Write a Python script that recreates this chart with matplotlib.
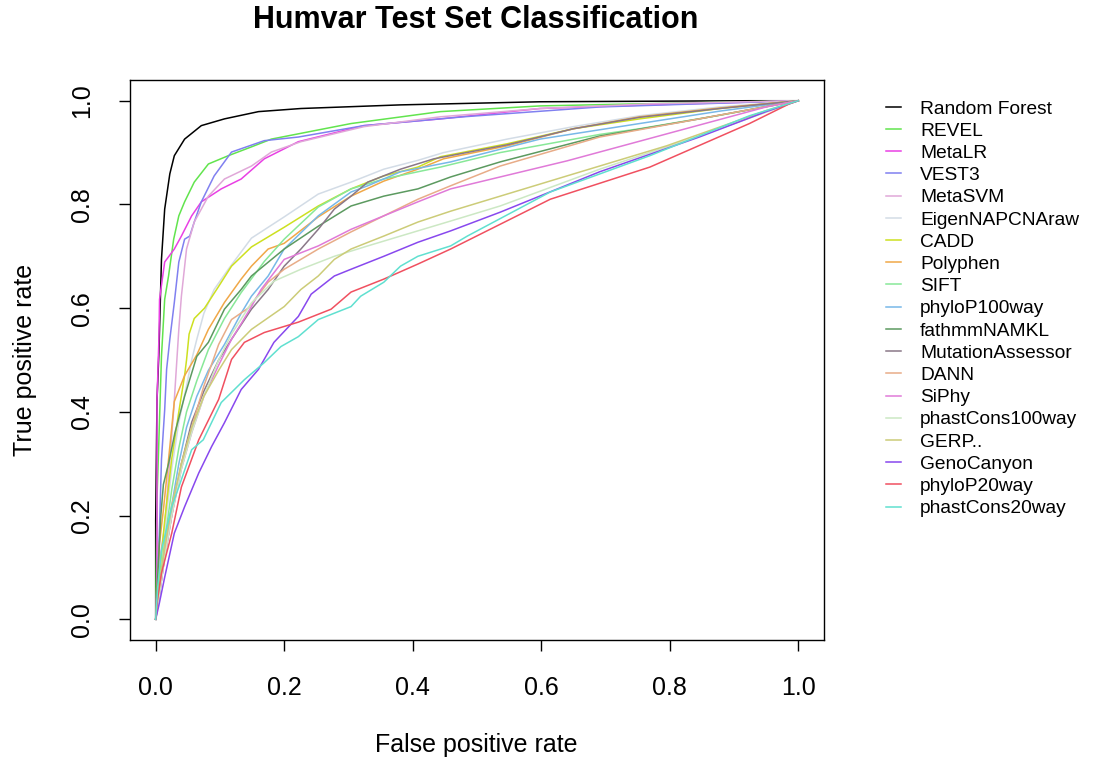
import matplotlib
matplotlib.use("Agg")
from matplotlib import pyplot as plt

plt.rcParams['font.family'] = ['Liberation Sans', 'DejaVu Sans']

# ROC curves (FPR, TPR)
names = ["Random Forest", "REVEL", "MetaLR", "VEST3", "MetaSVM", "EigenNAPCNAraw",
         "CADD", "Polyphen", "SIFT", "phyloP100way", "fathmmNAMKL", "MutationAssessor",
         "DANN", "SiPhy", "phastCons100way", "GERP..", "GenoCanyon", "phyloP20way",
         "phastCons20way"]
colors = ["#000000", "#62e44e", "#e940e4", "#8080f0", "#e0a8d8", "#d3dce6",
          "#cde020", "#f0a848", "#88e898", "#78b8e8", "#5c9a60", "#8a7888",
          "#e8ac88", "#e07ad8", "#cce8c4", "#cccc78", "#8848ee", "#f05060",
          "#60e0d0"]

rf_x = [0, 0, 0.002, 0.005, 0.009, 0.014, 0.022, 0.029, 0.045, 0.071, 0.107, 0.160, 0.226, 0.381, 0.598, 0.924, 1.0]
rf_y = [0, 0.19, 0.42, 0.515, 0.694, 0.791, 0.859, 0.894, 0.926, 0.952, 0.965, 0.979, 0.985, 0.992, 0.998, 1.0, 1.0]

revel_x = [0, 0.002, 0.005, 0.009, 0.014, 0.020, 0.028, 0.036, 0.045, 0.060, 0.082, 0.113, 0.149, 0.180, 0.304, 0.443, 0.598, 0.753, 1.0]
revel_y = [0, 0.23, 0.346, 0.507, 0.617, 0.662, 0.733, 0.778, 0.805, 0.843, 0.878, 0.894, 0.911, 0.926, 0.956, 0.979, 0.990, 0.994, 1.0]

metalr_x = [0, 0.002, 0.002, 0.005, 0.006, 0.014, 0.029, 0.040, 0.056, 0.071, 0.102, 0.133, 0.169, 0.222, 0.324, 0.443, 0.598, 0.769, 1.0]
metalr_y = [0, 0.075, 0.42, 0.54, 0.617, 0.689, 0.714, 0.739, 0.778, 0.805, 0.830, 0.849, 0.888, 0.921, 0.952, 0.965, 0.985, 0.992, 1.0]

vest3_x = [0, 0.003, 0.006, 0.009, 0.014, 0.017, 0.022, 0.029, 0.036, 0.045, 0.053, 0.060, 0.071, 0.091, 0.118, 0.169, 0.222, 0.324, 0.479, 0.691, 1.0]
vest3_y = [0, 0.075, 0.178, 0.308, 0.404, 0.482, 0.540, 0.611, 0.689, 0.733, 0.739, 0.766, 0.805, 0.855, 0.901, 0.923, 0.930, 0.952, 0.969, 0.988, 1.0]

metasvm_x = [0, 0.003, 0.006, 0.014, 0.020, 0.028, 0.033, 0.036, 0.040, 0.048, 0.060, 0.082, 0.107, 0.149, 0.180, 0.226, 0.324, 0.443, 0.598, 0.769, 1.0]
metasvm_y = [0, 0.056, 0.114, 0.178, 0.275, 0.404, 0.501, 0.559, 0.623, 0.714, 0.766, 0.816, 0.849, 0.874, 0.901, 0.921, 0.950, 0.969, 0.985, 0.994, 1.0]

eigen_x = [0, 0.005, 0.014, 0.025, 0.036, 0.048, 0.056, 0.064, 0.075, 0.091, 0.113, 0.149, 0.200, 0.253, 0.304, 0.355, 0.408, 0.448, 0.547, 0.650, 0.753, 0.878, 1.0]
eigen_y = [0, 0.06, 0.17, 0.29, 0.38, 0.45, 0.50, 0.54, 0.59, 0.636, 0.675, 0.735, 0.776, 0.820, 0.843, 0.868, 0.885, 0.900, 0.926, 0.950, 0.971, 0.988, 1.0]

cadd_x = [0, 0.005, 0.014, 0.025, 0.036, 0.045, 0.048, 0.052, 0.060, 0.076, 0.098, 0.118, 0.149, 0.200, 0.253, 0.304, 0.355, 0.408, 0.443, 0.547, 0.650, 0.753, 0.878, 1.0]
cadd_y = [0, 0.075, 0.19, 0.31, 0.40, 0.47, 0.50, 0.55, 0.58, 0.60, 0.642, 0.681, 0.718, 0.756, 0.797, 0.830, 0.855, 0.872, 0.892, 0.917, 0.946, 0.965, 0.985, 1.0]

polyphen_x = [0, 0.003, 0.006, 0.012, 0.020, 0.029, 0.045, 0.064, 0.082, 0.107, 0.133, 0.149, 0.175, 0.200, 0.253, 0.304, 0.355, 0.408, 0.448, 0.547, 0.650, 0.753, 0.878, 1.0]
polyphen_y = [0, 0.075, 0.147, 0.211, 0.308, 0.42, 0.47, 0.51, 0.559, 0.611, 0.656, 0.681, 0.714, 0.725, 0.776, 0.816, 0.845, 0.868, 0.888, 0.913, 0.946, 0.969, 0.986, 1.0]

sift_x = [0, 0.005, 0.014, 0.025, 0.036, 0.048, 0.064, 0.082, 0.107, 0.133, 0.169, 0.200, 0.253, 0.304, 0.355, 0.408, 0.443, 0.536, 0.691, 0.753, 0.878, 1.0]
sift_y = [0, 0.05, 0.15, 0.25, 0.33, 0.40, 0.46, 0.52, 0.58, 0.63, 0.69, 0.733, 0.795, 0.830, 0.849, 0.863, 0.872, 0.900, 0.935, 0.946, 0.972, 1.0]

p100_x = [0, 0.005, 0.014, 0.025, 0.036, 0.048, 0.064, 0.082, 0.107, 0.133, 0.149, 0.175, 0.200, 0.253, 0.304, 0.330, 0.381, 0.459, 0.598, 0.753, 0.878, 1.0]
p100_y = [0, 0.05, 0.13, 0.22, 0.30, 0.37, 0.43, 0.48, 0.53, 0.59, 0.623, 0.662, 0.714, 0.778, 0.824, 0.836, 0.863, 0.882, 0.926, 0.956, 0.980, 1.0]

fathmm_x = [0, 0.003, 0.008, 0.012, 0.020, 0.030, 0.045, 0.064, 0.082, 0.107, 0.133, 0.149, 0.200, 0.253, 0.304, 0.355, 0.408, 0.459, 0.536, 0.691, 0.846, 1.0]
fathmm_y = [0, 0.08, 0.20, 0.26, 0.30, 0.36, 0.43, 0.507, 0.534, 0.598, 0.636, 0.662, 0.714, 0.758, 0.797, 0.816, 0.830, 0.853, 0.882, 0.932, 0.965, 1.0]

mutass_x = [0, 0.005, 0.014, 0.025, 0.040, 0.056, 0.075, 0.098, 0.118, 0.149, 0.175, 0.200, 0.226, 0.253, 0.278, 0.304, 0.330, 0.381, 0.433, 0.547, 0.650, 0.753, 0.878, 1.0]
mutass_y = [0, 0.04, 0.12, 0.20, 0.30, 0.38, 0.44, 0.50, 0.54, 0.598, 0.636, 0.681, 0.714, 0.752, 0.791, 0.816, 0.843, 0.868, 0.888, 0.915, 0.946, 0.968, 0.985, 1.0]

dann_x = [0, 0.005, 0.014, 0.025, 0.040, 0.056, 0.075, 0.098, 0.118, 0.144, 0.175, 0.200, 0.253, 0.304, 0.355, 0.408, 0.459, 0.536, 0.691, 0.846, 1.0]
dann_y = [0, 0.05, 0.13, 0.21, 0.30, 0.37, 0.45, 0.53, 0.578, 0.60, 0.650, 0.675, 0.714, 0.747, 0.778, 0.810, 0.836, 0.874, 0.930, 0.965, 1.0]

siphy_x = [0, 0.005, 0.014, 0.025, 0.040, 0.056, 0.075, 0.098, 0.118, 0.133, 0.149, 0.164, 0.200, 0.253, 0.304, 0.355, 0.408, 0.459, 0.640, 0.795, 0.950, 1.0]
siphy_y = [0, 0.04, 0.12, 0.20, 0.29, 0.36, 0.43, 0.49, 0.54, 0.57, 0.603, 0.636, 0.694, 0.720, 0.752, 0.778, 0.805, 0.830, 0.884, 0.936, 0.988, 1.0]

pc100_x = [0, 0.005, 0.014, 0.025, 0.040, 0.056, 0.075, 0.098, 0.118, 0.149, 0.184, 0.226, 0.278, 0.330, 0.381, 0.459, 0.536, 0.691, 0.846, 1.0]
pc100_y = [0, 0.04, 0.12, 0.20, 0.29, 0.36, 0.43, 0.50, 0.55, 0.61, 0.652, 0.675, 0.700, 0.720, 0.739, 0.768, 0.797, 0.868, 0.932, 1.0]

gerp_x = [0, 0.002, 0.008, 0.014, 0.025, 0.040, 0.056, 0.075, 0.098, 0.118, 0.149, 0.200, 0.226, 0.253, 0.278, 0.304, 0.355, 0.408, 0.459, 0.640, 0.795, 0.950, 1.0]
gerp_y = [0, 0.03, 0.08, 0.14, 0.22, 0.30, 0.37, 0.43, 0.48, 0.52, 0.559, 0.603, 0.636, 0.662, 0.694, 0.714, 0.739, 0.766, 0.787, 0.855, 0.913, 0.981, 1.0]

geno_x = [0, 0.005, 0.014, 0.029, 0.045, 0.067, 0.087, 0.107, 0.133, 0.160, 0.184, 0.222, 0.242, 0.278, 0.304, 0.355, 0.408, 0.459, 0.536, 0.691, 0.846, 0.950, 1.0]
geno_y = [0, 0.027, 0.081, 0.166, 0.217, 0.282, 0.333, 0.379, 0.443, 0.482, 0.534, 0.584, 0.627, 0.662, 0.675, 0.700, 0.727, 0.749, 0.785, 0.863, 0.930, 0.979, 1.0]

p20_x = [0, 0.003, 0.009, 0.025, 0.040, 0.067, 0.098, 0.118, 0.138, 0.169, 0.222, 0.273, 0.304, 0.355, 0.408, 0.459, 0.614, 0.769, 0.924, 0.986, 1.0]
p20_y = [0, 0.04, 0.089, 0.166, 0.255, 0.346, 0.424, 0.501, 0.534, 0.553, 0.573, 0.598, 0.631, 0.656, 0.685, 0.714, 0.810, 0.872, 0.956, 0.994, 1.0]

pc20_x = [0, 0.003, 0.009, 0.025, 0.036, 0.056, 0.074, 0.102, 0.138, 0.169, 0.195, 0.222, 0.253, 0.304, 0.319, 0.355, 0.381, 0.408, 0.459, 0.485, 0.614, 0.769, 0.924, 1.0]
pc20_y = [0, 0.06, 0.133, 0.217, 0.255, 0.327, 0.346, 0.418, 0.462, 0.495, 0.526, 0.545, 0.578, 0.603, 0.623, 0.650, 0.681, 0.700, 0.720, 0.739, 0.824, 0.894, 0.971, 1.0]

xs = [rf_x, revel_x, metalr_x, vest3_x, metasvm_x, eigen_x, cadd_x, polyphen_x, sift_x,
      p100_x, fathmm_x, mutass_x, dann_x, siphy_x, pc100_x, gerp_x, geno_x, p20_x, pc20_x]
ys = [rf_y, revel_y, metalr_y, vest3_y, metasvm_y, eigen_y, cadd_y, polyphen_y, sift_y,
      p100_y, fathmm_y, mutass_y, dann_y, siphy_y, pc100_y, gerp_y, geno_y, p20_y, pc20_y]

fig = plt.figure(figsize=(10.96, 7.64), dpi=100)
ax = fig.add_axes([0.1186, 0.1623, 0.6332, 0.733])

for x, y, name, c in zip(xs, ys, names, colors):
    ax.plot(x, y, color=c, lw=1.1, label=name)

ax.set_xlim(-0.04, 1.04)
ax.set_ylim(-0.04, 1.04)
ticks = [0.0, 0.2, 0.4, 0.6, 0.8, 1.0]
ax.set_xticks(ticks)
ax.set_yticks(ticks)
ax.set_xticklabels([f"{t:.1f}" for t in ticks])
ax.set_yticklabels([f"{t:.1f}" for t in ticks], rotation=90, va='center')
ax.tick_params(direction='out', length=8, width=1, labelsize=18, pad=18)
for s in ax.spines.values():
    s.set_linewidth(1.0)

fig.text(0.4343, 0.974, "Humvar Test Set Classification", ha='center', va='center',
         fontsize=22, fontweight='bold')
fig.text(0.4343, 0.0249, "False positive rate", ha='center', va='center', fontsize=18)
fig.text(0.0228, 0.529, "True positive rate", ha='center', va='center', fontsize=18, rotation=90)

fig.legend(loc='upper left', bbox_to_anchor=(0.808, 0.869), frameon=False, fontsize=13.8,
           handlelength=0.8, handletextpad=1.0, labelspacing=0.25, borderpad=0, borderaxespad=0)

fig.savefig("out.png", dpi=100)
